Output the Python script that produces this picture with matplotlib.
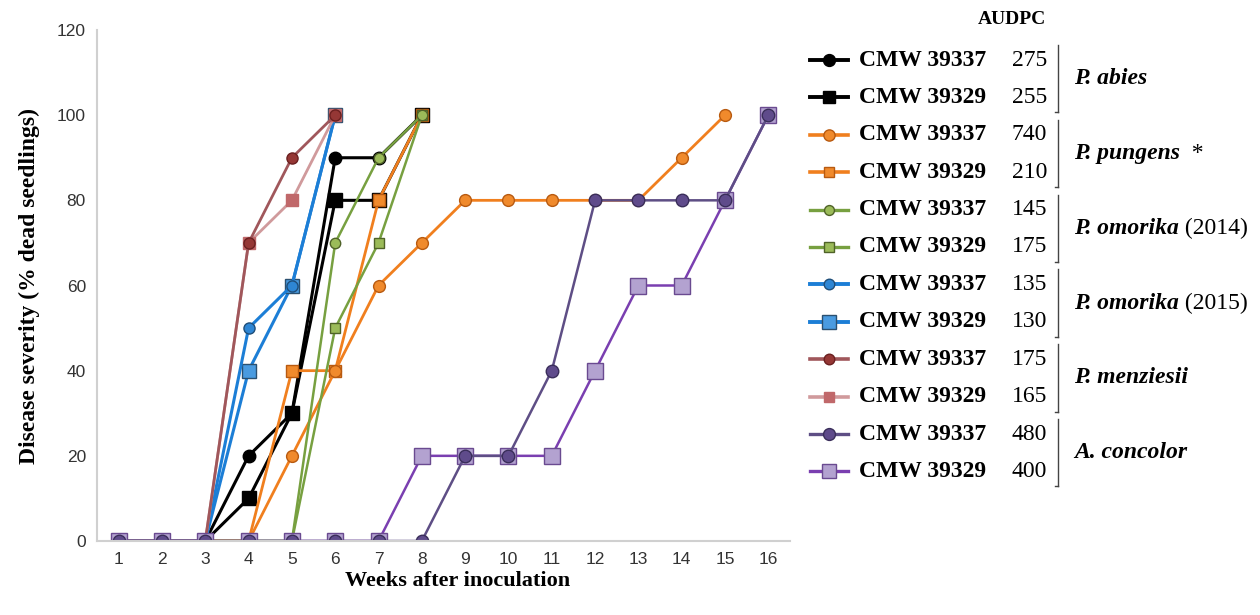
import numpy as np
import matplotlib.pyplot as plt

weeks = np.arange(1, 17)

# disease severity (% dead seedlings) per week
abies_37 = [0, 0, 0, 20, 30, 90, 90, 100]
abies_29 = [0, 0, 0, 10, 30, 80, 80, 100]
pungens_37 = [0, 0, 0, 0, 20, 40, 60, 70, 80, 80, 80, 80, 80, 90, 100]
pungens_29 = [0, 0, 0, 0, 40, 40, 80, 100]
omor14_37 = [0, 0, 0, 0, 0, 70, 90, 100]
omor14_29 = [0, 0, 0, 0, 0, 50, 70, 100]
omor15_37 = [0, 0, 0, 50, 60, 100]
omor15_29 = [0, 0, 0, 40, 60, 100]
menz_37 = [0, 0, 0, 70, 90, 100]
menz_29 = [0, 0, 0, 70, 80, 100]
conc_37 = [0, 0, 0, 0, 0, 0, 0, 0, 20, 20, 40, 80, 80, 80, 80, 100]
conc_29 = [0, 0, 0, 0, 0, 0, 0, 20, 20, 20, 20, 40, 60, 60, 80, 100]

strains = ["CMW 39337", "CMW 39329"]
audpc = [275, 255, 740, 210, 145, 175, 135, 130, 175, 165, 480, 400]
species = [("P. abies", ""), ("P. pungens", "  *"), ("P. omorika", " (2014)"),
           ("P. omorika", " (2015)"), ("P. menziesii", ""), ("A. concolor", "")]

series = [abies_37, abies_29, pungens_37, pungens_29, omor14_37, omor14_29,
          omor15_37, omor15_29, menz_37, menz_29, conc_37, conc_29]

# (line colour, marker, face, edge, marker size, line width)
styles = [
    ("#000000", "o", "#000000", "#000000", 9, 2.2),
    ("#000000", "s", "#000000", "#000000", 9.5, 2.2),
    ("#F07F1E", "o", "#F08A2C", "#B85A10", 8.5, 2.0),
    ("#F07F1E", "s", "#F08A2C", "#B85A10", 8, 2.0),
    ("#77A040", "o", "#9BBB59", "#4F6228", 7.5, 1.8),
    ("#77A040", "s", "#9BBB59", "#4F6228", 7, 1.8),
    ("#1C7ED6", "o", "#2E86D4", "#1F4E79", 8, 2.2),
    ("#1C7ED6", "s", "#4A9BE0", "#2B5070", 10.5, 2.2),
    ("#A0575B", "o", "#953735", "#6B2020", 8, 2.0),
    ("#D09A9C", "s", "#C0686A", "#C0686A", 8, 2.0),
    ("#5E4E85", "o", "#5F4B8B", "#3A2E5A", 9, 1.8),
    ("#7A3FB0", "s", "#B3A2D0", "#6A4A90", 11, 1.8),
]

fig = plt.figure(figsize=(12.6, 6.15), dpi=100)
ax = fig.add_axes([97 / 1260, 74 / 615, 693 / 1260, 511 / 615])

# within each pair the square series goes underneath the circle series
order = []
for k in range(6):
    order += [2 * k + 1, 2 * k]
for i in order:
    vals = series[i]
    lc, mk, fc, ec, ms, lw = styles[i]
    ax.plot(weeks[:len(vals)], vals, color=lc, lw=lw, marker=mk, ms=ms,
            markerfacecolor=fc, markeredgecolor=ec, markeredgewidth=1.0)

ax.set_xlim(0.5, 16.5)
ax.set_ylim(0, 120)
ax.set_xticks(weeks)
ax.set_yticks(np.arange(0, 121, 20))
for s in ["top", "right"]:
    ax.spines[s].set_visible(False)
for s in ["left", "bottom"]:
    ax.spines[s].set_color("#D0D0D0")
    ax.spines[s].set_linewidth(1.5)
ax.tick_params(length=0, labelsize=12.5, pad=8, colors="#333333")
for t in ax.get_xticklabels() + ax.get_yticklabels():
    t.set_family("Liberation Sans")
ax.set_xlabel("Weeks after inoculation", family="Liberation Serif",
              fontweight="bold", fontsize=16, labelpad=2)
ax.xaxis.set_label_coords(0.52, -0.058)
ax.set_ylabel("Disease severity (% dead seedlings)", family="Liberation Serif",
              fontweight="bold", fontsize=17, labelpad=12)

# custom legend on the right
lax = fig.add_axes([0, 0, 1, 1])
lax.set_xlim(0, 1260)
lax.set_ylim(615, 0)
lax.axis("off")
lax.text(1012, 19, "AUDPC", family="Liberation Serif", fontweight="bold",
         fontsize=14, ha="center", va="center")
y0, dy = 60, 37.4
for i, st in enumerate(styles):
    lc, mk, fc, ec, ms, lw = st
    y = y0 + i * dy
    lax.plot([810, 848], [y, y], color=lc, lw=lw + 0.6)
    lax.plot([829], [y], marker=mk, ms=ms * 0.95, color=lc,
             markerfacecolor=fc, markeredgecolor=ec, markeredgewidth=1.0)
    lax.text(859, y, strains[i % 2], family="Liberation Serif", fontweight="bold",
             fontsize=17, ha="left", va="center")
    lax.text(1047, y, str(audpc[i]), family="Liberation Serif",
             fontsize=17, ha="right", va="center")
for k, (name, extra) in enumerate(species):
    ya = y0 + 2 * k * dy - 15
    yb = y0 + (2 * k + 1) * dy + 15
    lax.plot([1058, 1058], [ya, yb], color="#444444", lw=1.0)
    lax.plot([1055, 1058], [yb, yb], color="#444444", lw=1.0)
    ym = (ya + yb) / 2
    t = lax.text(1074, ym, name, family="Liberation Serif", fontweight="bold",
                 style="italic", fontsize=17, ha="left", va="center")
    if extra:
        lax.annotate(extra, xycoords=t, xy=(1, 0.5), va="center", ha="left",
                     family="Liberation Serif", fontsize=17)

fig.savefig("out.png", dpi=100)
